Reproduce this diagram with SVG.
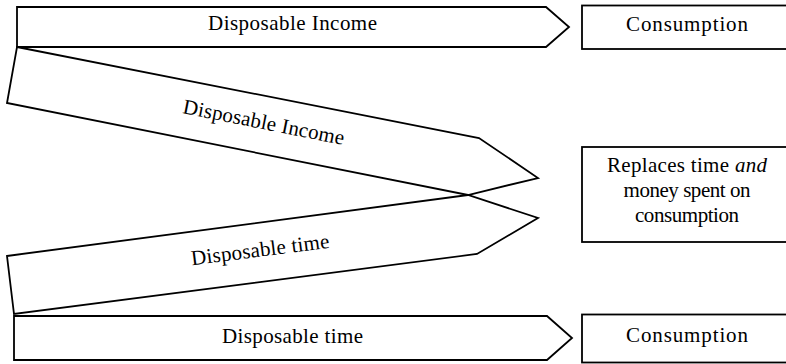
<svg xmlns="http://www.w3.org/2000/svg" width="786" height="364" viewBox="0 0 786 364">
  <style>
    .shape { fill: #ffffff; stroke: #000000; stroke-width: 1.8; stroke-linejoin: miter; }
    .label { font-family: "Liberation Serif", "Times New Roman", serif; font-size: 21px; fill: #000000; text-anchor: middle; }
  </style>
  <rect x="0" y="0" width="786" height="364" fill="#ffffff"/>

  <g id="connectors">
    <!-- slanted flow: disposable income -->
    <g id="flow-income">
      <polygon class="shape" points="17,47 479,138 538,178 468,195 7,103"/>
      <text class="label" transform="translate(262.5,129) rotate(11.2)" textLength="164" lengthAdjust="spacing">Disposable Income</text>
    </g>
    <!-- slanted flow: disposable time -->
    <g id="flow-time">
      <polygon class="shape" points="7,256 468,195 538,218 477,254 14,314"/>
      <text class="label" transform="translate(261,256.5) rotate(-7.2)" textLength="139" lengthAdjust="spacing">Disposable time</text>
    </g>
  </g>

  <g id="arrow-income-top">
    <polygon class="shape" points="17,7 546,7 569,27 546,47 17,47"/>
    <text class="label" x="292.5" y="30" textLength="169" lengthAdjust="spacing">Disposable Income</text>
  </g>

  <g id="arrow-time-bottom">
    <polygon class="shape" points="14,316 547,316 572,338 547,360 14,360"/>
    <text class="label" x="292.5" y="343" textLength="141" lengthAdjust="spacing">Disposable time</text>
  </g>

  <g id="consumption-top">
    <rect class="shape" x="582" y="5.5" width="212" height="43.5"/>
    <text class="label" x="687" y="31" textLength="122" lengthAdjust="spacing">Consumption</text>
  </g>

  <g id="replaces">
    <rect class="shape" x="582" y="147" width="212" height="95"/>
    <text class="label" x="687" y="172" textLength="160" lengthAdjust="spacing">Replaces time <tspan font-style="italic">and</tspan></text>
    <text class="label" x="687" y="197" textLength="127" lengthAdjust="spacing">money spent on</text>
    <text class="label" x="687" y="222" textLength="104" lengthAdjust="spacing">consumption</text>
  </g>

  <g id="consumption-bottom">
    <rect class="shape" x="582" y="314.5" width="212" height="48"/>
    <text class="label" x="687" y="342" textLength="122" lengthAdjust="spacing">Consumption</text>
  </g>
</svg>
